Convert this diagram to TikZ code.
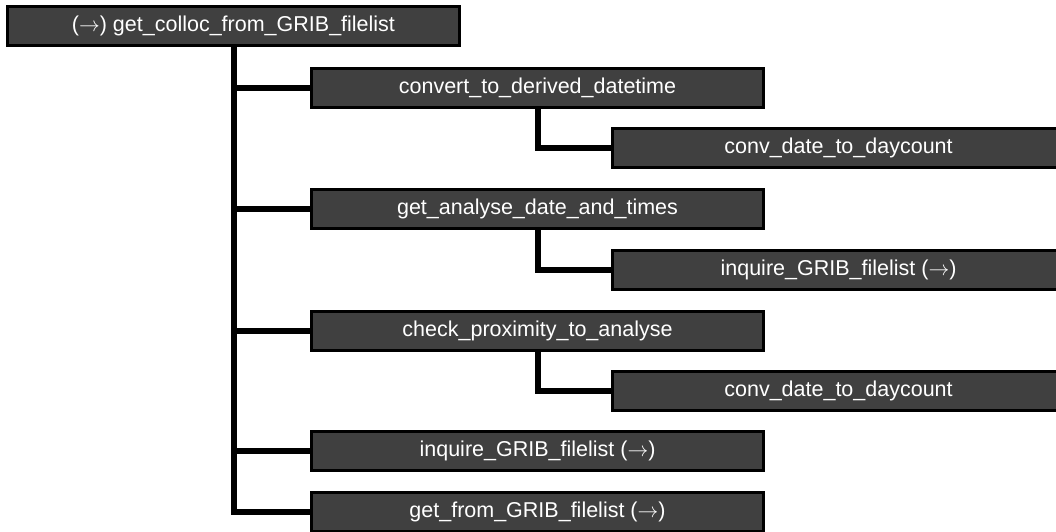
\documentclass[tikz,border=0pt]{standalone}
\usepackage{fontspec}
\setmainfont{Liberation Sans}
\usepackage{xcolor}
\usepackage{tikz}
\usetikzlibrary{positioning}
\definecolor{boxgray}{RGB}{64,64,64}
\tikzset{
  fn/.style  ={rectangle,draw=black,line width=3pt,fill=boxgray,text=white,
               minimum width=452pt,minimum height=39pt,inner sep=0pt,
               font=\fontsize{21.5}{24}\selectfont},
  link/.style={line width=6pt,black},
}
\newcommand{\rarr}{$\rightarrow$}

\begin{document}
\begin{tikzpicture}[x=1pt,y=-1pt]
  \useasboundingbox (0,0) rectangle (1056,531);
  \clip (0,0) rectangle (1056,531);
  \node[fn] (root) at (233.5,26){(\rarr) get\_colloc\_from\_GRIB\_filelist};
  \node[fn] (cvt)  at (537.5,88){convert\_to\_derived\_datetime};
  \node[fn] (cvtd) at (838.5,148){conv\_date\_to\_daycount};
  \node[fn] (ana)  at (537.5,209){get\_analyse\_date\_and\_times};
  \node[fn] (anai) at (838.5,270){inquire\_GRIB\_filelist (\rarr)};
  \node[fn] (chk)  at (537.5,331){check\_proximity\_to\_analyse};
  \node[fn] (chkd) at (838.5,391){conv\_date\_to\_daycount};
  \node[fn] (inq)  at (537.5,451){inquire\_GRIB\_filelist (\rarr)};
  \node[fn] (get)  at (537.5,512){get\_from\_GRIB\_filelist (\rarr)};
  % calls from the top routine
  \draw[link] (root.south) |- (cvt.west);
  \draw[link] (root.south) |- (ana.west);
  \draw[link] (root.south) |- (chk.west);
  \draw[link] (root.south) |- (inq.west);
  \draw[link] (root.south) |- (get.west);
  % second level
  \draw[link] (cvt.south) |- (cvtd.west);
  \draw[link] (ana.south) |- (anai.west);
  \draw[link] (chk.south) |- (chkd.west);
\end{tikzpicture}
\end{document}
